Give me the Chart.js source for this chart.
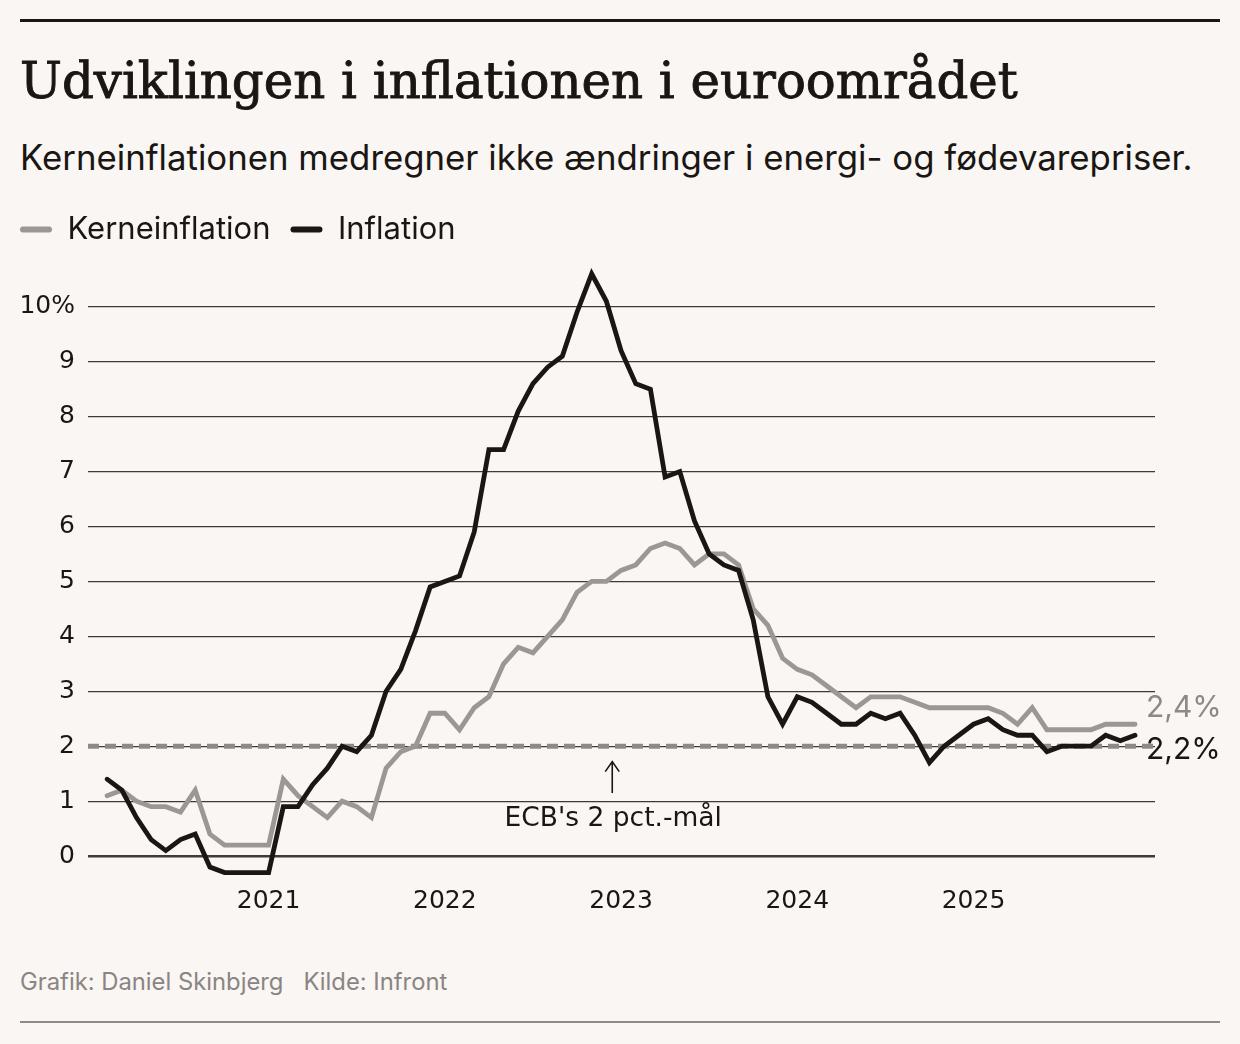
<!DOCTYPE html>
<html lang="da">
<head>
<meta charset="utf-8">
<script src="https://cdn.jsdelivr.net/npm/chart.js@4.4.1/dist/chart.umd.min.js"></script>
<style>
html,body{margin:0;padding:0;background:#faf6f3;}
body{width:1240px;height:1044px;position:relative;overflow:hidden;font-family:Inter,"Noto Sans",sans-serif;color:#1a1614;}
.rule-top{position:absolute;left:20px;top:19px;width:1200px;height:2.5px;background:#1a1614;}
.rule-bottom{position:absolute;left:20px;top:1021px;width:1200px;height:2px;background:#8f8a87;}
h1{position:absolute;left:20px;top:62px;margin:0;font-family:"DejaVu Serif",serif;font-weight:normal;font-size:45px;line-height:1;white-space:nowrap;color:#1a1614;-webkit-text-stroke:0.9px #1a1614;}
.sub{position:absolute;left:20px;top:144px;font-size:30px;line-height:1;white-space:nowrap;color:#1a1614;}
#wrap{position:absolute;left:0;top:194px;width:1240px;height:725px;}
.foot{position:absolute;left:20px;top:969.5px;font-size:23.8px;line-height:1;color:#8a8583;white-space:nowrap;}
.foot span+span{margin-left:20px;}
</style>
</head>
<body>
<div class="rule-top"></div>
<h1 id="title">Udviklingen i inflationen i euroområdet</h1>
<div class="sub" id="sub">Kerneinflationen medregner ikke ændringer i energi- og fødevarepriser.</div>
<div id="wrap"><canvas id="c"></canvas></div>
<div class="foot" id="foot"><span>Grafik: Daniel Skinbjerg</span><span>Kilde: Infront</span></div>
<div class="rule-bottom"></div>
<script>
// ---- Data (monthly, Jan 2020 – Nov 2025) ----
const months = [
 'jan 2020','feb 2020','mar 2020','apr 2020','maj 2020','jun 2020','jul 2020','aug 2020','sep 2020','okt 2020','nov 2020','dec 2020',
 'jan 2021','feb 2021','mar 2021','apr 2021','maj 2021','jun 2021','jul 2021','aug 2021','sep 2021','okt 2021','nov 2021','dec 2021',
 'jan 2022','feb 2022','mar 2022','apr 2022','maj 2022','jun 2022','jul 2022','aug 2022','sep 2022','okt 2022','nov 2022','dec 2022',
 'jan 2023','feb 2023','mar 2023','apr 2023','maj 2023','jun 2023','jul 2023','aug 2023','sep 2023','okt 2023','nov 2023','dec 2023',
 'jan 2024','feb 2024','mar 2024','apr 2024','maj 2024','jun 2024','jul 2024','aug 2024','sep 2024','okt 2024','nov 2024','dec 2024',
 'jan 2025','feb 2025','mar 2025','apr 2025','maj 2025','jun 2025','jul 2025','aug 2025','sep 2025','okt 2025','nov 2025'
];
const inflation = [
 1.4,1.2,0.7,0.3,0.1,0.3,0.4,-0.2,-0.3,-0.3,-0.3,-0.3,
 0.9,0.9,1.3,1.6,2.0,1.9,2.2,3.0,3.4,4.1,4.9,5.0,
 5.1,5.9,7.4,7.4,8.1,8.6,8.9,9.1,9.9,10.6,10.1,9.2,
 8.6,8.5,6.9,7.0,6.1,5.5,5.3,5.2,4.3,2.9,2.4,2.9,
 2.8,2.6,2.4,2.4,2.6,2.5,2.6,2.2,1.7,2.0,2.2,2.4,
 2.5,2.3,2.2,2.2,1.9,2.0,2.0,2.0,2.2,2.1,2.2
];
const kerneinflation = [
 1.1,1.2,1.0,0.9,0.9,0.8,1.2,0.4,0.2,0.2,0.2,0.2,
 1.4,1.1,0.9,0.7,1.0,0.9,0.7,1.6,1.9,2.0,2.6,2.6,
 2.3,2.7,2.9,3.5,3.8,3.7,4.0,4.3,4.8,5.0,5.0,5.2,
 5.3,5.6,5.7,5.6,5.3,5.5,5.5,5.3,4.5,4.2,3.6,3.4,
 3.3,3.1,2.9,2.7,2.9,2.9,2.9,2.8,2.7,2.7,2.7,2.7,
 2.7,2.6,2.4,2.7,2.3,2.3,2.3,2.3,2.4,2.4,2.4
];
const yearTickIndex = [11,23,35,47,59];
const yearLabels = ['2021','2022','2023','2024','2025'];
const yTicks = [0,1,2,3,4,5,6,7,8,9,10];
const ecbTarget = 2;
const seriesNames = ['Kerneinflation','Inflation'];
const endLabels = ['2,4%','2,2%'];
const annotationText = "ECB's 2 pct.-mål";

// ---- Styles ----
const BLACK = '#1a1614';
const GRAY = '#9b9794';
const DASH = '#8f8a87';
const LABELGRAY = '#8e8986';
const FONT = 'Inter';
const TICKFONT = 'DejaVu Sans';

// Fit header text widths
function fitText(el, targetWidth, baseline, ascK){
  const cs = getComputedStyle(el);
  const s = parseFloat(cs.fontSize);
  const c = document.createElement('canvas').getContext('2d');
  c.font = `${cs.fontWeight} ${s}px ${cs.fontFamily}`;
  const w = c.measureText(el.textContent).width;
  const ns = s * targetWidth / w;
  el.style.fontSize = ns + 'px';
  el.style.top = (baseline - ascK * ns) + 'px';
}
fitText(document.getElementById('title'), 998, 99, 0.846);
fitText(document.getElementById('sub'), 1173, 170, 0.8635);

const refLine = {
  id: 'refLine',
  beforeDatasetsDraw(chart){
    const {ctx, chartArea: a, scales: {y}} = chart;
    const py = y.getPixelForValue(ecbTarget);
    ctx.save();
    ctx.strokeStyle = DASH;
    ctx.lineWidth = 5;
    ctx.setLineDash([11, 6]);
    ctx.beginPath();
    ctx.moveTo(a.left, py);
    ctx.lineTo(a.right, py);
    ctx.stroke();
    ctx.restore();
  }
};

const annotations = {
  id: 'annotations',
  afterDatasetsDraw(chart){
    const {ctx, scales: {x, y}} = chart;
    ctx.save();
    // arrow
    const ax = x.getPixelForValue(34.4);
    const yTop = y.getPixelForValue(1.72);
    const yBot = y.getPixelForValue(1.15);
    ctx.strokeStyle = BLACK;
    ctx.lineWidth = 1.6;
    ctx.beginPath();
    ctx.moveTo(ax, yTop); ctx.lineTo(ax, yBot);
    ctx.moveTo(ax - 7, yTop + 10); ctx.lineTo(ax, yTop); ctx.lineTo(ax + 7, yTop + 10);
    ctx.stroke();
    // text
    ctx.fillStyle = BLACK;
    ctx.font = `26.5px ${TICKFONT}`;
    ctx.textAlign = 'center';
    ctx.textBaseline = 'alphabetic';
    ctx.fillText(annotationText, ax + 1, y.getPixelForValue(0.55));
    // end labels
    ctx.textAlign = 'left';
    ctx.font = `30px ${FONT}`;
    const li = kerneinflation.length - 1;
    const ex = x.getPixelForValue(li) + 11;
    ctx.fillStyle = LABELGRAY;
    ctx.fillText(endLabels[0], ex, y.getPixelForValue(kerneinflation[li]) - 7);
    ctx.fillStyle = BLACK;
    ctx.fillText(endLabels[1], ex, y.getPixelForValue(inflation[li]) + 24);
    ctx.restore();
  }
};

new Chart(document.getElementById('c'), {
  type: 'line',
  data: {
    labels: months,
    datasets: [
      {
        label: seriesNames[0],
        data: kerneinflation.map((v, i) => ({x: i, y: v})),
        borderColor: GRAY, backgroundColor: GRAY,
        borderWidth: 4.8, pointRadius: 0, pointHoverRadius: 0,
        borderCapStyle: 'round', borderJoinStyle: 'miter',
        tension: 0, fill: false, order: 1
      },
      {
        label: seriesNames[1],
        data: inflation.map((v, i) => ({x: i, y: v})),
        borderColor: BLACK, backgroundColor: BLACK,
        borderWidth: 4.8, pointRadius: 0, pointHoverRadius: 0,
        borderCapStyle: 'round', borderJoinStyle: 'miter',
        tension: 0, fill: false, order: 0
      }
    ]
  },
  options: {
    responsive: true,
    maintainAspectRatio: false,
    animation: false,
    devicePixelRatio: 1,
    layout: {padding: {left: 0, right: 85, top: 0, bottom: 0}},
    plugins: {
      tooltip: {enabled: false},
      legend: {
        position: 'top',
        align: 'start',
        labels: {
          boxWidth: 32, boxHeight: 6,
          useBorderRadius: true, borderRadius: 3,
          padding: 20,
          color: BLACK,
          font: {family: FONT, size: 31},
          sort: (a, b) => a.datasetIndex - b.datasetIndex,
          generateLabels: (chart) => Chart.defaults.plugins.legend.labels.generateLabels(chart).map(l => Object.assign(l, {lineWidth: 0}))
        }
      }
    },
    scales: {
      x: {
        type: 'linear',
        min: -1.3, max: 71.36,
        grid: {display: false, drawTicks: false},
        border: {display: false},
        afterBuildTicks: (s) => { s.ticks = yearTickIndex.map(v => ({value: v})); },
        ticks: {
          autoSkip: false, maxRotation: 0, padding: 3,
          color: BLACK, font: {family: TICKFONT, size: 25},
          callback: (v, i) => yearLabels[i]
        }
      },
      y: {
        min: -0.49, max: 10.942,
        afterBuildTicks: (s) => { s.ticks = yTicks.map(v => ({value: v})); },
        afterFit: (s) => { s.width = 88; },
        grid: {
          color: '#3d3a38',
          lineWidth: (c) => (c.tick && c.tick.value === 0) ? 2.4 : 1.2,
          drawTicks: false
        },
        border: {display: false},
        ticks: {
          padding: 13,
          color: BLACK, font: {family: TICKFONT, size: 25},
          callback: (v) => v === 10 ? '10%' : String(v)
        }
      }
    }
  },
  plugins: [refLine, annotations]
});
</script>
</body>
</html>
